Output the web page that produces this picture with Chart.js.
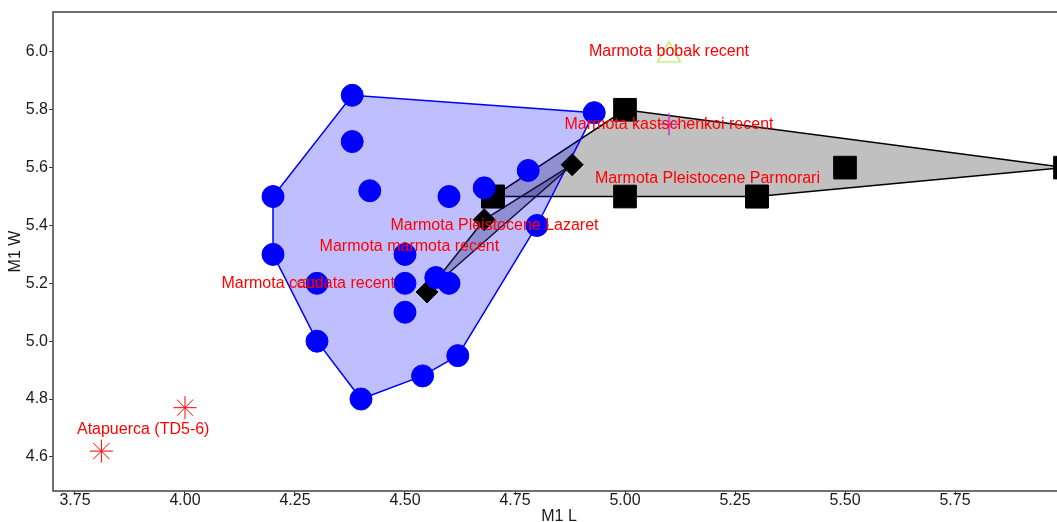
<!DOCTYPE html>
<html>
<head>
<meta charset="utf-8">
<script src="https://cdn.jsdelivr.net/npm/chart.js@4.4.1/dist/chart.umd.min.js"></script>
<style>
  html, body { margin: 0; padding: 0; overflow: hidden; background: #fff; }
  canvas { display: block; }
</style>
</head>
<body>
<canvas id="chartJSContainer" width="1075" height="530"></canvas>
<script>
// M1 length (x) vs M1 width (y), one array pair per group
var marmotaX = [4.2, 4.2, 4.3, 4.3, 4.4, 4.54, 4.62, 4.5, 4.5, 4.5, 4.57, 4.6, 4.42, 4.6, 4.68, 4.78, 4.8, 4.38, 4.38, 4.93];
var marmotaY = [5.5, 5.3, 5.2, 5.0, 4.8, 4.88, 4.95, 5.1, 5.2, 5.3, 5.22, 5.2, 5.52, 5.5, 5.53, 5.59, 5.4, 5.85, 5.69, 5.79];
var parmorariX = [4.7, 4.7, 5.0, 5.0, 5.3, 5.3, 5.5, 6.0];
var parmorariY = [5.5, 5.5, 5.8, 5.5, 5.5, 5.5, 5.6, 5.6];
var lazaretX = [4.55, 4.68, 4.88];
var lazaretY = [5.17, 5.42, 5.61];
var atapuercaX = [3.81, 4.0];
var atapuercaY = [4.62, 4.77];
var bobakX = [5.1];
var bobakY = [6.0];
var kastschenkoiX = [5.1];
var kastschenkoiY = [5.75];
var caudataX = [4.28];
var caudataY = [5.2];

var xTicks = [3.75, 4.0, 4.25, 4.5, 4.75, 5.0, 5.25, 5.5, 5.75];
var yTicks = [4.6, 4.8, 5.0, 5.2, 5.4, 5.6, 5.8, 6.0];

function pts(xs, ys) {
  return xs.map(function (x, i) { return { x: x, y: ys[i] }; });
}

function mean(a) {
  return a.reduce(function (s, v) { return s + v; }, 0) / a.length;
}

// convex hull (monotone chain), closed back to the first vertex
function hull(xs, ys) {
  var p = pts(xs, ys).sort(function (a, b) { return a.x - b.x || a.y - b.y; });
  function cross(o, a, b) { return (a.x - o.x) * (b.y - o.y) - (a.y - o.y) * (b.x - o.x); }
  var lower = [], upper = [];
  p.forEach(function (q) {
    while (lower.length >= 2 && cross(lower[lower.length - 2], lower[lower.length - 1], q) <= 0) lower.pop();
    lower.push(q);
  });
  p.slice().reverse().forEach(function (q) {
    while (upper.length >= 2 && cross(upper[upper.length - 2], upper[upper.length - 1], q) <= 0) upper.pop();
    upper.push(q);
  });
  var h = lower.slice(0, -1).concat(upper.slice(0, -1));
  h.push(h[0]);
  return h;
}

function triangleMark() {
  var c = document.createElement('canvas');
  c.width = 26; c.height = 23;
  var g = c.getContext('2d');
  g.strokeStyle = '#b0ec50';
  g.lineWidth = 1.2;
  g.beginPath();
  g.moveTo(13, 1.5); g.lineTo(24.5, 21.5); g.lineTo(1.5, 21.5);
  g.closePath();
  g.stroke();
  return c;
}

function ellipseMark() {
  var c = document.createElement('canvas');
  c.width = 26; c.height = 11;
  var g = c.getContext('2d');
  g.strokeStyle = '#a01010';
  g.lineWidth = 1;
  g.beginPath();
  g.ellipse(13, 5.5, 11.5, 4, 0, 0, Math.PI * 2);
  g.stroke();
  return c;
}

var groups = [
  { name: 'Marmota bobak recent', x: bobakX, y: bobakY },
  { name: 'Marmota kastschenkoi recent', x: kastschenkoiX, y: kastschenkoiY },
  { name: 'Marmota Pleistocene Parmorari', x: parmorariX, y: parmorariY },
  { name: 'Marmota Pleistocene Lazaret', x: lazaretX, y: lazaretY },
  { name: 'Marmota marmota recent', x: marmotaX, y: marmotaY },
  { name: 'Marmota caudata recent', x: caudataX, y: caudataY },
  { name: 'Atapuerca (TD5-6)', x: atapuercaX, y: atapuercaY }
];

var groupLabels = {
  id: 'groupLabels',
  afterDatasetsDraw: function (chart) {
    var ctx = chart.ctx, xs = chart.scales.x, ys = chart.scales.y;
    ctx.save();
    ctx.font = '16px "Liberation Sans", Arial, sans-serif';
    ctx.fillStyle = '#ff0000';
    ctx.textAlign = 'center';
    ctx.textBaseline = 'middle';
    groups.forEach(function (g) {
      ctx.fillText(g.name, xs.getPixelForValue(mean(g.x)), ys.getPixelForValue(mean(g.y)));
    });
    ctx.restore();
  }
};

var frame = {
  id: 'frame',
  afterDraw: function (chart) {
    var a = chart.chartArea, ctx = chart.ctx;
    ctx.save();
    ctx.strokeStyle = '#404040';
    ctx.lineWidth = 1.5;
    ctx.strokeRect(a.left, a.top, a.right - a.left, a.bottom - a.top);
    ctx.restore();
  }
};

Chart.defaults.font.family = '"Liberation Sans", Arial, sans-serif';
Chart.defaults.color = '#1a1a1a';

var options = {
  type: 'scatter',
  data: {
    datasets: [
      {
        label: 'Marmota caudata recent',
        data: pts(caudataX, caudataY),
        pointStyle: ellipseMark(),
        pointRadius: 12,
        order: 0
      },
      {
        label: 'Marmota bobak recent',
        data: pts(bobakX, bobakY),
        pointStyle: triangleMark(),
        pointRadius: 13,
        order: 0
      },
      {
        label: 'Marmota kastschenkoi recent',
        data: pts(kastschenkoiX, kastschenkoiY),
        pointStyle: 'cross',
        pointRadius: 11,
        borderColor: '#cc33cc',
        borderWidth: 1.5,
        order: 0
      },
      {
        label: 'Atapuerca (TD5-6)',
        data: pts(atapuercaX, atapuercaY),
        pointStyle: 'star',
        pointRadius: 11.5,
        borderColor: '#ff0000',
        borderWidth: 1,
        order: 0
      },
      {
        label: 'Marmota marmota recent',
        data: pts(marmotaX, marmotaY),
        pointStyle: 'circle',
        pointRadius: 11,
        backgroundColor: '#0000ff',
        borderColor: '#0000ff',
        borderWidth: 1,
        order: 1
      },
      {
        label: 'Marmota Pleistocene Parmorari',
        data: pts(parmorariX, parmorariY),
        pointStyle: 'rect',
        pointRadius: 16,
        backgroundColor: '#000',
        borderColor: '#000',
        borderWidth: 1,
        order: 2
      },
      {
        label: 'Marmota Pleistocene Lazaret',
        data: pts(lazaretX, lazaretY),
        pointStyle: 'rectRot',
        pointRadius: 11,
        backgroundColor: '#000',
        borderColor: '#000',
        borderWidth: 1,
        order: 3
      },
      {
        label: 'Lazaret hull',
        data: hull(lazaretX, lazaretY),
        showLine: true,
        fill: 'shape',
        backgroundColor: 'rgba(0, 0, 80, 0.25)',
        borderColor: '#10103a',
        borderWidth: 1.5,
        pointRadius: 0,
        pointHoverRadius: 0,
        order: 4
      },
      {
        label: 'marmota hull',
        data: hull(marmotaX, marmotaY),
        showLine: true,
        fill: 'shape',
        backgroundColor: 'rgba(0, 0, 255, 0.25)',
        borderColor: '#0000ff',
        borderWidth: 1.5,
        pointRadius: 0,
        pointHoverRadius: 0,
        order: 5
      },
      {
        label: 'Parmorari hull',
        data: hull(parmorariX, parmorariY),
        showLine: true,
        fill: 'shape',
        backgroundColor: '#c0c0c0',
        borderColor: '#000',
        borderWidth: 1.5,
        pointRadius: 0,
        pointHoverRadius: 0,
        order: 6
      }
    ]
  },
  options: {
    responsive: false,
    animation: false,
    layout: { autoPadding: false, padding: { top: 12, right: 10, left: 0, bottom: 0 } },
    plugins: {
      legend: { display: false },
      tooltip: { enabled: false }
    },
    scales: {
      x: {
        type: 'linear',
        min: 3.70,
        max: 6.0,
        afterBuildTicks: function (s) { s.ticks = xTicks.map(function (v) { return { value: v }; }); },
        afterFit: function (s) { s.height = 39; },
        ticks: {
          autoSkip: false,
          maxRotation: 0,
          padding: -4,
          font: { size: 16 },
          callback: function (v) { return Number(v).toFixed(2); }
        },
        grid: { drawOnChartArea: false, tickLength: 4, color: '#404040' },
        border: { display: false },
        title: { display: true, text: 'M1 L', font: { size: 16 }, padding: { top: 0, bottom: 4 } }
      },
      y: {
        type: 'linear',
        min: 4.482,
        max: 6.138,
        afterBuildTicks: function (s) { s.ticks = yTicks.map(function (v) { return { value: v }; }); },
        afterFit: function (s) { s.width = 53; },
        ticks: {
          autoSkip: false,
          padding: 1,
          font: { size: 16 },
          callback: function (v) { return Number(v).toFixed(1); }
        },
        grid: { drawOnChartArea: false, tickLength: 4, color: '#404040' },
        border: { display: false },
        title: { display: true, text: 'M1 W', font: { size: 16 }, padding: { top: 6, bottom: 0 } }
      }
    }
  },
  plugins: [groupLabels, frame]
};

var ctx = document.getElementById('chartJSContainer');
var myScatterChart = new Chart(ctx, options);
</script>
</body>
</html>
